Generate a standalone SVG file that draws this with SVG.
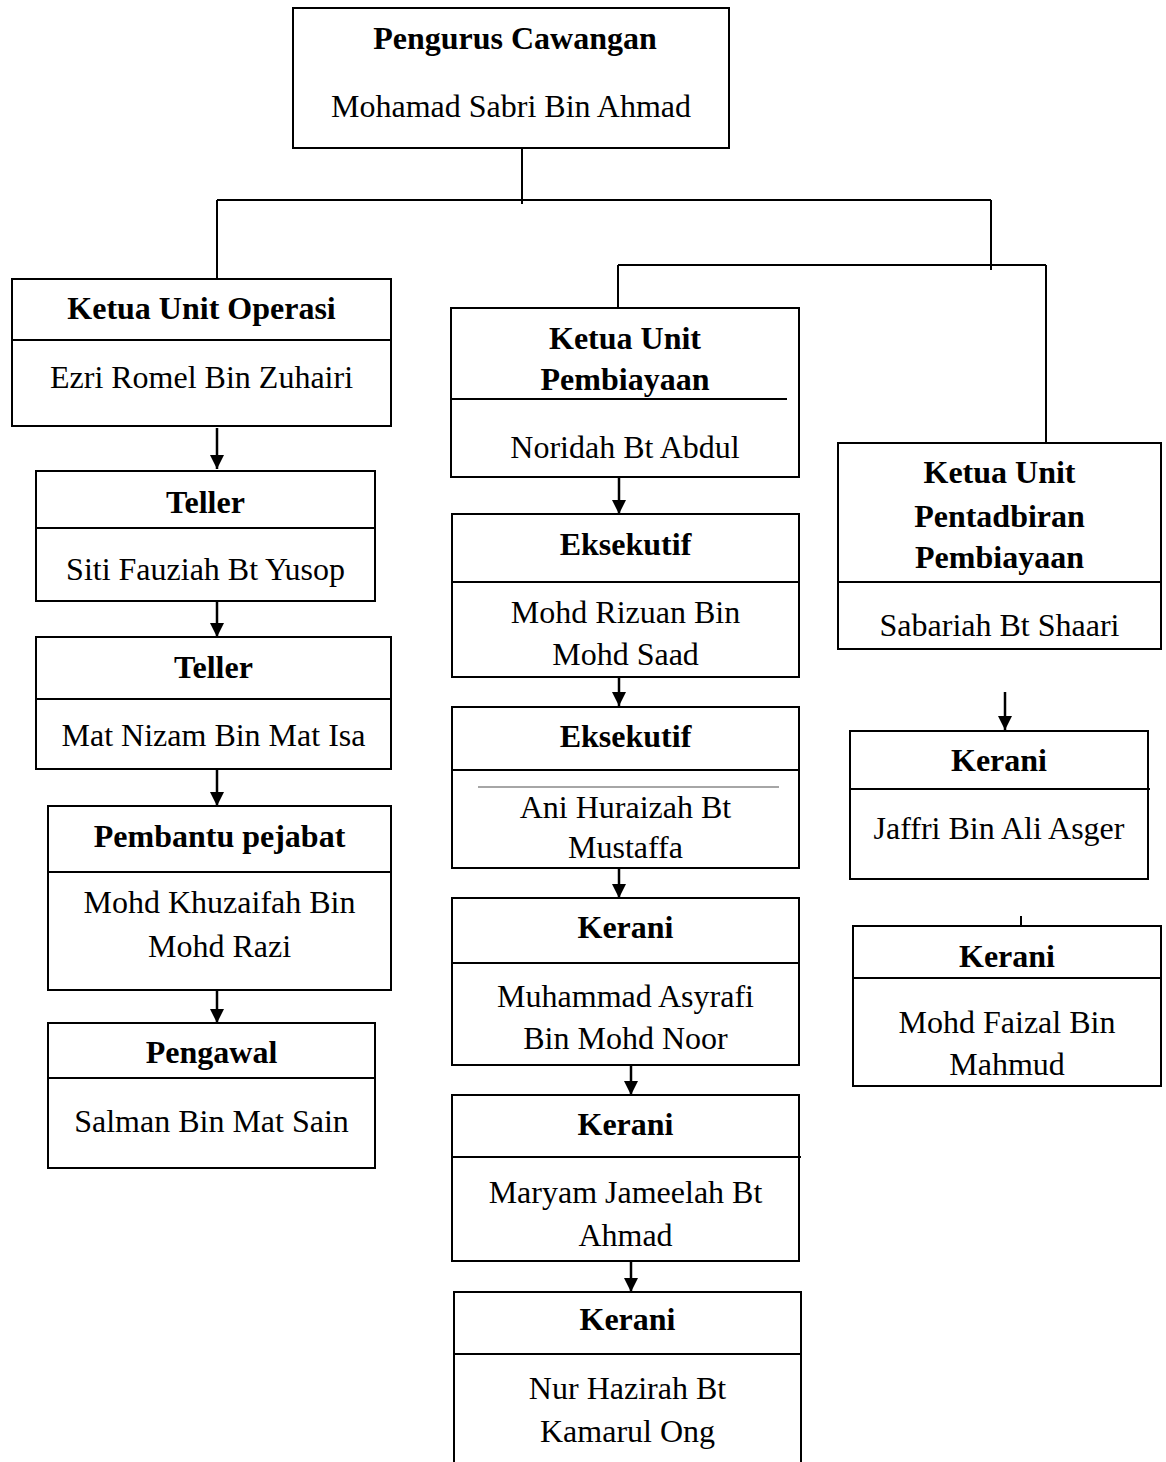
<svg xmlns="http://www.w3.org/2000/svg" width="1166" height="1462" viewBox="0 0 1166 1462">
<style>
.box{fill:#fff;stroke:#000;stroke-width:2}
.div{stroke:#000;stroke-width:2;fill:none}
.t{font-family:"Liberation Serif","Times New Roman",serif;font-size:32px;font-weight:bold;text-anchor:middle;fill:#000}
.n{font-family:"Liberation Serif","Times New Roman",serif;font-size:32px;text-anchor:middle;fill:#000}
.c{stroke:#000;stroke-width:2;fill:none}
.a{stroke:#000;stroke-width:2.5;fill:none;marker-end:url(#ah)}
</style>
<defs>
<marker id="ah" viewBox="0 0 10 10" refX="10" refY="5" markerWidth="14" markerHeight="14" markerUnits="userSpaceOnUse" orient="auto">
<path d="M0,0 L10,5 L0,10 z" fill="#000"/>
</marker>
</defs>
<rect width="1166" height="1462" fill="#fff"/>

<g id="connectors">
<path class="c" d="M522,148 V204"/>
<path class="c" d="M217,200 H991"/>
<path class="c" d="M217,200 V279"/>
<path class="c" d="M991,200 V270"/>
<path class="c" d="M618,265 H1046"/>
<path class="c" d="M618,265 V308"/>
<path class="c" d="M1046,265 V443"/>
<path class="a" d="M217,428 V469"/>
<path class="a" d="M217,593 V637"/>
<path class="a" d="M217,762 V806"/>
<path class="a" d="M217,977 V1023"/>
<path class="a" d="M619,475 V514"/>
<path class="a" d="M619,663 V706"/>
<path class="a" d="M619,860 V898"/>
<path class="a" d="M631,1055 V1095"/>
<path class="a" d="M631,1252 V1292"/>
<path class="a" d="M1005,692 V730"/>
<path class="c" d="M1021,916 V926"/>
</g>

<g id="pengurus">
<rect class="box" x="293" y="8" width="436" height="140"/>
<text class="t" x="515" y="49">Pengurus Cawangan</text>
<text class="n" x="511" y="117">Mohamad Sabri Bin Ahmad</text>
</g>

<g id="ketua-operasi">
<rect class="box" x="12" y="279" width="379" height="147"/>
<line class="div" x1="12" y1="340" x2="391" y2="340"/>
<text class="t" x="201.5" y="319">Ketua Unit Operasi</text>
<text class="n" x="201.5" y="388">Ezri Romel Bin Zuhairi</text>
</g>

<g id="teller1">
<rect class="box" x="36" y="471" width="339" height="130"/>
<line class="div" x1="36" y1="528" x2="375" y2="528"/>
<text class="t" x="205.5" y="513">Teller</text>
<text class="n" x="205.5" y="580">Siti Fauziah Bt Yusop</text>
</g>

<g id="teller2">
<rect class="box" x="36" y="637" width="355" height="132"/>
<line class="div" x1="36" y1="699" x2="391" y2="699"/>
<text class="t" x="213.5" y="678">Teller</text>
<text class="n" x="213.5" y="746">Mat Nizam Bin Mat Isa</text>
</g>

<g id="pembantu">
<rect class="box" x="48" y="806" width="343" height="184"/>
<line class="div" x1="48" y1="872" x2="391" y2="872"/>
<text class="t" x="219.5" y="847">Pembantu pejabat</text>
<text class="n" x="219.5" y="913">Mohd Khuzaifah Bin</text>
<text class="n" x="219.5" y="957">Mohd Razi</text>
</g>

<g id="pengawal">
<rect class="box" x="48" y="1023" width="327" height="145"/>
<line class="div" x1="48" y1="1078" x2="375" y2="1078"/>
<text class="t" x="211.5" y="1063">Pengawal</text>
<text class="n" x="211.5" y="1132">Salman Bin Mat Sain</text>
</g>

<g id="ketua-pembiayaan">
<rect class="box" x="451" y="308" width="348" height="169"/>
<line class="div" x1="451" y1="399" x2="787" y2="399"/>
<text class="t" x="625" y="349">Ketua Unit</text>
<text class="t" x="625" y="390">Pembiayaan</text>
<text class="n" x="625" y="458">Noridah Bt Abdul</text>
</g>

<g id="eksekutif1">
<rect class="box" x="452" y="514" width="347" height="163"/>
<line class="div" x1="452" y1="582" x2="799" y2="582"/>
<text class="t" x="625.5" y="555">Eksekutif</text>
<text class="n" x="625.5" y="623">Mohd Rizuan Bin</text>
<text class="n" x="625.5" y="665">Mohd Saad</text>
</g>

<g id="eksekutif2">
<rect class="box" x="452" y="707" width="347" height="161"/>
<line class="div" x1="452" y1="770" x2="799" y2="770"/>
<line x1="478" y1="787" x2="779" y2="787" stroke="#888" stroke-width="1.5"/>
<text class="t" x="625.5" y="747">Eksekutif</text>
<text class="n" x="625.5" y="818">Ani Huraizah Bt</text>
<text class="n" x="625.5" y="858">Mustaffa</text>
</g>

<g id="kerani-asyrafi">
<rect class="box" x="452" y="898" width="347" height="167"/>
<line class="div" x1="452" y1="963" x2="799" y2="963"/>
<text class="t" x="625.5" y="938">Kerani</text>
<text class="n" x="625.5" y="1007">Muhammad Asyrafi</text>
<text class="n" x="625.5" y="1049">Bin Mohd Noor</text>
</g>

<g id="kerani-maryam">
<rect class="box" x="452" y="1095" width="347" height="166"/>
<line class="div" x1="452" y1="1157" x2="801" y2="1157"/>
<text class="t" x="625.5" y="1135">Kerani</text>
<text class="n" x="625.5" y="1203">Maryam Jameelah Bt</text>
<text class="n" x="625.5" y="1246">Ahmad</text>
</g>

<g id="kerani-nur">
<rect class="box" x="454" y="1292" width="347" height="180"/>
<line class="div" x1="454" y1="1354" x2="801" y2="1354"/>
<text class="t" x="627.5" y="1330">Kerani</text>
<text class="n" x="627.5" y="1399">Nur Hazirah Bt</text>
<text class="n" x="627.5" y="1442">Kamarul Ong</text>
</g>

<g id="ketua-pentadbiran">
<rect class="box" x="838" y="443" width="323" height="206"/>
<line class="div" x1="838" y1="582" x2="1161" y2="582"/>
<text class="t" x="999.5" y="483">Ketua Unit</text>
<text class="t" x="999.5" y="527">Pentadbiran</text>
<text class="t" x="999.5" y="568">Pembiayaan</text>
<text class="n" x="999.5" y="636">Sabariah Bt Shaari</text>
</g>

<g id="kerani-jaffri">
<rect class="box" x="850" y="731" width="298" height="148"/>
<line class="div" x1="850" y1="789" x2="1150" y2="789"/>
<text class="t" x="999" y="771">Kerani</text>
<text class="n" x="999" y="839">Jaffri Bin Ali Asger</text>
</g>

<g id="kerani-faizal">
<rect class="box" x="853" y="926" width="308" height="160"/>
<line class="div" x1="853" y1="978" x2="1161" y2="978"/>
<text class="t" x="1007" y="967">Kerani</text>
<text class="n" x="1007" y="1033">Mohd Faizal Bin</text>
<text class="n" x="1007" y="1075">Mahmud</text>
</g>
</svg>
